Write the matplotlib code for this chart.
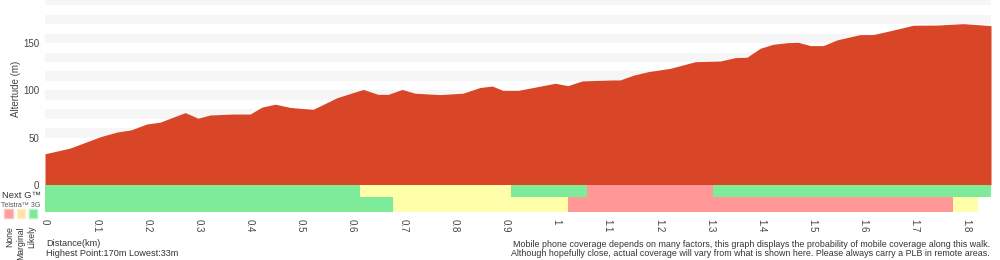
import matplotlib.pyplot as plt
from matplotlib.patches import Rectangle
from matplotlib.ticker import FuncFormatter

# elevation profile (km, m)
dist_km = [0.0, 0.049, 0.108, 0.141, 0.166, 0.172, 0.199, 0.225, 0.250, 0.274,
           0.299, 0.323, 0.368, 0.401, 0.424, 0.450, 0.479, 0.499, 0.524, 0.571,
           0.622, 0.651, 0.671, 0.698, 0.723, 0.772, 0.817, 0.850, 0.874, 0.895,
           0.925, 0.954, 0.997, 1.022, 1.050, 1.110, 1.124, 1.150, 1.179, 1.222,
           1.271, 1.320, 1.349, 1.372, 1.398, 1.423, 1.451, 1.472, 1.496, 1.521,
           1.548, 1.593, 1.619, 1.652, 1.697, 1.744, 1.795, 1.849]
alt_m = [33, 39, 51, 56, 58, 59, 64.5, 66.4, 71.6, 76.5,
         70.6, 74, 75, 75, 82.3, 85.4, 82, 81, 80, 92.3,
         101, 95.8, 95.8, 101, 97, 95.5, 97, 103, 104.6, 100,
         100, 103, 107.5, 105, 110, 111, 111, 116, 119.8, 123.3,
         130.3, 131, 134.6, 135, 144.5, 148.7, 150.4, 150.8, 147.3, 147.3,
         153.3, 158.9, 159, 163, 168.8, 169, 170.5, 168.4]

# coverage segments: start, end (km), level
nextg_start = [0.0, 0.616, 0.911, 1.060, 1.306]
nextg_end = [0.616, 0.911, 1.060, 1.306, 1.849]
nextg_level = ['Likely', 'Marginal', 'Likely', 'None', 'Likely']
g3_start = [0.0, 0.680, 1.0225, 1.775]
g3_end = [0.680, 1.0225, 1.775, 1.824]
g3_level = ['Likely', 'Marginal', 'None', 'Marginal']

xticks = [0, 0.1, 0.2, 0.3, 0.4, 0.5, 0.6, 0.7, 0.8, 0.9, 1.0,
          1.1, 1.2, 1.3, 1.4, 1.5, 1.6, 1.7, 1.8]
yticks = [0, 50, 100, 150]

cov_colors = {'None': '#ff9896', 'Marginal': '#ffffaa', 'Likely': '#7eeb99'}
red = '#d94627'
txt = '#333333'
plt.rcParams['font.family'] = ['Liberation Sans', 'DejaVu Sans']

fig = plt.figure(figsize=(10, 2.6), dpi=100)
x0, x1 = 0.045, 0.991
xmax = dist_km[-1]

# altitude panel
ax = fig.add_axes([x0, 75 / 260, x1 - x0, 185 / 260])
for lo in range(50, 200, 20):
    ax.axhspan(lo, lo + 10, color='#f6f6f6', lw=0, zorder=0)
ax.fill_between(dist_km, 0, alt_m, color=red, lw=0, zorder=2)
ax.set_xlim(0, xmax)
ax.set_ylim(0, 195.5)
ax.set_xticks([])
ax.set_yticks(yticks)
ax.tick_params(axis='y', length=0, labelsize=7, labelcolor='#444444', pad=4)
for s in ax.spines.values():
    s.set_visible(False)
ax.set_ylabel('Altertude (m)', fontsize=7, color='#444444')
ax.yaxis.set_label_coords(-0.025, 0.52)

# coverage panel
cax = fig.add_axes([x0, 48 / 260, x1 - x0, 27 / 260])
for st, en, lv in zip(nextg_start, nextg_end, nextg_level):
    cax.barh(15, en - st, left=st, height=12, color=cov_colors[lv], lw=0, align='edge')
for st, en, lv in zip(g3_start, g3_end, g3_level):
    cax.barh(0, en - st, left=st, height=15, color=cov_colors[lv], lw=0, align='edge')
cax.set_xlim(0, xmax)
cax.set_ylim(0, 27)
cax.set_yticks([])
cax.set_xticks(xticks)
cax.xaxis.set_major_formatter(FuncFormatter(lambda v, p: '%g' % round(v, 1)))
cax.tick_params(axis='x', length=0, labelsize=7, labelcolor='#444444',
                labelrotation=-90, pad=5)
for s in cax.spines.values():
    s.set_visible(False)

# legend on the left
fig.text(41 / 1000, 1 - 195 / 260, 'Next G\u2122', ha='right', va='center',
         fontsize=6.8, color=txt)
fig.text(40 / 1000, 1 - 205.5 / 260, 'Telstra\u2122 3G', ha='right', va='center',
         fontsize=5, color='#555555')
sq_colors = [('#ff9c9c', '#ffc2c2'), ('#ffe3a6', '#fff0c8'), ('#7ee898', '#b2f5c2')]
sq_x = [4, 16.5, 28.5]
for (fc, ec), sx in zip(sq_colors, sq_x):
    fig.patches.append(Rectangle((sx / 1000, 1 - 218 / 260), 8.5 / 1000, 9 / 260,
                                 transform=fig.transFigure, facecolor=fc,
                                 edgecolor=ec, lw=1))
for lab, lx in zip(['None', 'Marginal', 'Likely'], [9.5, 20.5, 32]):
    fig.text(lx / 1000, 1 - 226 / 260, lab, rotation=90, ha='center', va='top',
             fontsize=6.2, color=txt)

# footer texts
fig.text(46 / 1000, 1 - 243 / 260, 'Distance(km)', ha='left', va='center',
         fontsize=6.6, color=txt)
fig.text(46 / 1000, 1 - 253 / 260, 'Highest Point:170m Lowest:33m', ha='left',
         va='center', fontsize=6.6, color=txt)
fig.text(990 / 1000, 1 - 244.5 / 260,
         'Mobile phone coverage depends on many factors, this graph displays the '
         'probability of mobile coverage along this walk.',
         ha='right', va='center', fontsize=6.4, color=txt)
fig.text(990 / 1000, 1 - 254 / 260,
         'Although hopefully close, actual coverage will vary from what is shown '
         'here. Please always carry a PLB in remote areas.',
         ha='right', va='center', fontsize=6.4, color=txt)

fig.savefig('out.png', dpi=100)
